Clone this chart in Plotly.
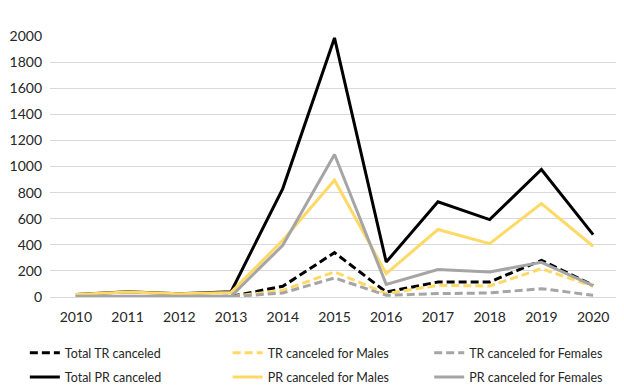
import plotly.graph_objects as go

years = ["2010", "2011", "2012", "2013", "2014", "2015", "2016", "2017", "2018", "2019", "2020"]

total_tr = [0, 0, 0, 5, 82, 340, 38, 115, 115, 281, 90]
tr_males = [0, 0, 0, 3, 51, 192, 26, 90, 84, 217, 82]
tr_females = [0, 0, 0, 2, 31, 146, 13, 26, 31, 64, 13]
total_pr = [20, 40, 25, 40, 831, 1985, 268, 729, 593, 977, 478]
pr_males = [20, 38, 24, 35, 435, 895, 179, 517, 409, 716, 389]
pr_females = [5, 5, 5, 5, 396, 1092, 97, 210, 192, 266, 87]

names = ["Total TR canceled", "TR canceled for Males", "TR canceled for Females",
         "Total PR canceled", "PR canceled for Males", "PR canceled for Females"]
series = [total_tr, tr_males, tr_females, total_pr, pr_males, pr_females]

BLACK = "#000000"
YELLOW = "#FFD966"
GRAY = "#A5A5A5"
colors = [BLACK, YELLOW, GRAY, BLACK, YELLOW, GRAY]
dashes = ["8px,4px", "8px,4px", "8px,4px", "solid", "solid", "solid"]
legend_ids = ["legend", "legend2", "legend3", "legend", "legend2", "legend3"]

fig = go.Figure()
for i, (n, s, c, d, lg) in enumerate(zip(names, series, colors, dashes, legend_ids)):
    fig.add_trace(go.Scatter(x=years, y=s, name=n, mode="lines", legend=lg,
                             legendgroup="g%d" % i, legendrank=i,
                             line=dict(color=c, width=3, dash=d)))

leg_common = dict(orientation="v", xref="container", yref="container",
                  xanchor="left", yanchor="top", y=0.158,
                  font=dict(size=12.5, color="#262626"), tracegroupgap=5,
                  itemwidth=30, bgcolor="rgba(0,0,0,0)")

fig.update_layout(
    width=624, height=392,
    margin=dict(l=42, r=13, t=28, b=103, autoexpand=False),
    plot_bgcolor="white", paper_bgcolor="white",
    font=dict(family="Lato", size=14, color="#262626"),
    showlegend=True,
    legend=dict(x=0.027, **leg_common),
    legend2=dict(x=0.352, **leg_common),
    legend3=dict(x=0.675, **leg_common),
    xaxis=dict(type="category", showgrid=False, showline=False, ticks="",
               zeroline=False, range=[-0.5, 10.5], ticklabelstandoff=10,
               automargin=False),
    yaxis=dict(range=[0, 2000], dtick=200, showgrid=True, gridcolor="#D9D9D9",
               gridwidth=1, zeroline=True, zerolinecolor="#D9D9D9", zerolinewidth=1,
               showline=False, ticks="", ticklabelstandoff=7, automargin=False),
)

fig.write_html("out.html")
